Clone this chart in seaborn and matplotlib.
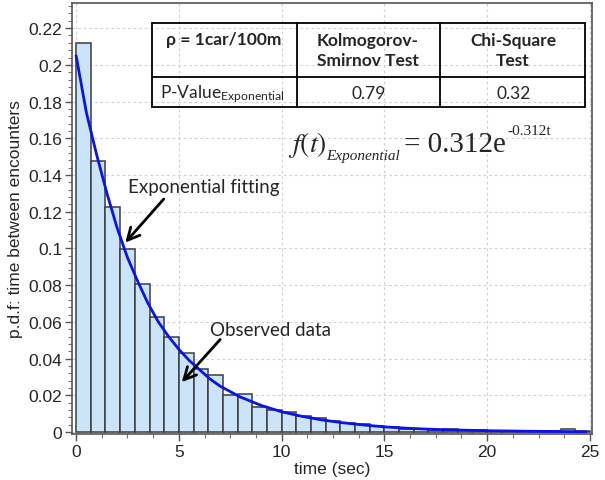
import numpy as np
import pandas as pd
import matplotlib
matplotlib.use('Agg')
import matplotlib.pyplot as plt
from matplotlib.ticker import AutoMinorLocator, FuncFormatter, MultipleLocator
import seaborn as sns

# histogram: fraction of encounters per bin (35 bins over 0-25 s)
n_bins = 35
t_range = (0, 25)
bar_heights = [0.212, 0.1475, 0.1227, 0.0995, 0.0804, 0.0627, 0.0515, 0.0430,
               0.0342, 0.0310, 0.0203, 0.0207, 0.0134, 0.0121, 0.0107, 0.0085,
               0.0076, 0.0058, 0.0047, 0.0042, 0.0031, 0.0025, 0.0015, 0.0015,
               0.0012, 0.0015, 0.0010, 0.0012, 0.0005, 0.0004, 0.0003, 0.0003,
               0.0003, 0.0015, 0.0004]

# fitted exponential curve
fit_t = [0, 0.5, 1, 1.5, 2, 2.5, 3, 3.5, 4, 4.5, 5, 5.5, 6, 6.5, 7, 7.5, 8,
         9, 10, 11, 12, 13, 14, 15, 16, 17, 18, 20, 22, 24, 24.8]
fit_y = [0.205, 0.174, 0.151, 0.130, 0.111, 0.095, 0.082, 0.070, 0.060, 0.052,
         0.045, 0.039, 0.034, 0.029, 0.025, 0.022, 0.019, 0.0145, 0.011, 0.0085,
         0.0065, 0.005, 0.0038, 0.0028, 0.0021, 0.0016, 0.0012, 0.0007, 0.0004,
         0.0002, 0.0001]

# goodness of fit table
table_header = ['ρ = 1car/100m', 'Kolmogorov-\nSmirnov Test', 'Chi-Square\nTest']
p_values = ['0.79', '0.32']

sns.set_style('white')
plt.rcParams['font.family'] = ['Liberation Sans', 'DejaVu Sans']
plt.rcParams['mathtext.fontset'] = 'stix'

W, H = 605, 481
fig = plt.figure(figsize=(W / 100, H / 100), dpi=100)
ax = fig.add_axes([72 / W, 1 - 435 / H, 520 / W, 431 / H])

def fx(px):
    return px / W

def fy(py):
    return 1 - py / H

bw = (t_range[1] - t_range[0]) / n_bins
centers = [t_range[0] + bw * (i + 0.5) for i in range(n_bins)]
df = pd.DataFrame({'t': centers, 'w': bar_heights})
sns.histplot(data=df, x='t', weights='w', binwidth=bw, binrange=t_range, stat='count',
             color='#cce4f9', alpha=1, edgecolor='#3c3c3c', linewidth=1.1, ax=ax, zorder=2)
sns.lineplot(x=fit_t, y=fit_y, color='#0a14e6', linewidth=2, ax=ax, zorder=3)

ax.set_xlim(-0.2, 25.1)
ax.set_ylim(-0.0011, 0.2337)
ax.xaxis.set_major_locator(MultipleLocator(5))
ax.xaxis.set_minor_locator(AutoMinorLocator(4))
ax.yaxis.set_major_locator(MultipleLocator(0.02))
ax.yaxis.set_minor_locator(AutoMinorLocator(5))
ax.yaxis.set_major_formatter(FuncFormatter(lambda v, p: '%g' % round(v, 4)))
ax.tick_params(which='major', direction='out', length=5, width=1, color='#555555',
               labelsize=12.5, pad=2, bottom=True, left=True)
ax.tick_params(which='minor', direction='out', length=3, width=0.8, color='#777777',
               bottom=True, left=True)
ax.grid(True, which='major', linestyle=(0, (2.5, 2.5)), color='#d2d2d2', linewidth=0.8, zorder=0)
ax.set_axisbelow(True)
for s in ax.spines.values():
    s.set_color('#555555')
    s.set_linewidth(1.2)

ax.set_xlabel('time (sec)', fontsize=12.5, labelpad=2)
ax.set_ylabel('p.d.f: time between encounters', fontsize=12.5, labelpad=4)

# table drawn as lines + text
tcol = 'black'
xs = [152, 297, 440, 585]
ys = [24, 78, 108]
for x in xs:
    fig.add_artist(plt.Line2D([fx(x), fx(x)], [fy(ys[0]), fy(ys[-1])], color=tcol, lw=1.3))
for y in ys:
    fig.add_artist(plt.Line2D([fx(xs[0]), fx(xs[-1])], [fy(y), fy(y)], color=tcol, lw=1.3))

tfont = ['Lato', 'DejaVu Sans']
fig.text(fx(224), fy(40), table_header[0], ha='center', va='center', fontsize=12.5,
         fontweight='bold', family=tfont)
fig.text(fx(368), fy(51), table_header[1], ha='center', va='center', fontsize=12.5,
         fontweight='bold', family=tfont, linespacing=1.3)
fig.text(fx(513), fy(51), table_header[2], ha='center', va='center', fontsize=12.5,
         fontweight='bold', family=tfont, linespacing=1.3)
fig.text(fx(160), fy(94), r'P-Value$_{\mathregular{Exponential}}$', ha='left', va='center',
         fontsize=12.5, family=tfont)
fig.text(fx(369), fy(94), p_values[0], ha='center', va='center', fontsize=12.5, family=tfont)
fig.text(fx(514), fy(94), p_values[1], ha='center', va='center', fontsize=12.5, family=tfont)

# fitted equation, built from pieces so the sub/superscripts stay small
renderer = fig.canvas.get_renderer()
serif = ['Liberation Serif', 'DejaVu Serif']
pieces = [(r'$f(t)$', 20, 'normal', 152, 0),
          ('Exponential', 11, 'italic', 160, 4),
          ('= 0.312e', 21, 'normal', 152, 1),
          ('-0.312t', 11, 'normal', 135, 0)]
cur = 288
for txt, size, style, base, gap in pieces:
    t = fig.text(fx(cur), fy(base), txt, ha='left', va='baseline', fontsize=size,
                 style=style, family=serif)
    cur = t.get_window_extent(renderer).x1 + gap

# annotations
arrow = dict(arrowstyle='->', color='black', lw=2, mutation_scale=22)
ax.annotate('', xy=(2.3, 0.102), xytext=(4.35, 0.128), arrowprops=arrow)
ax.text(2.53, 0.134, 'Exponential fitting', fontsize=13.5, family=tfont, ha='left', va='center')
ax.annotate('', xy=(5.05, 0.026), xytext=(7.1, 0.0515), arrowprops=arrow)
ax.text(6.5, 0.056, 'Observed data', fontsize=13.5, family=tfont, ha='left', va='center')

fig.savefig('out.png', dpi=100)
